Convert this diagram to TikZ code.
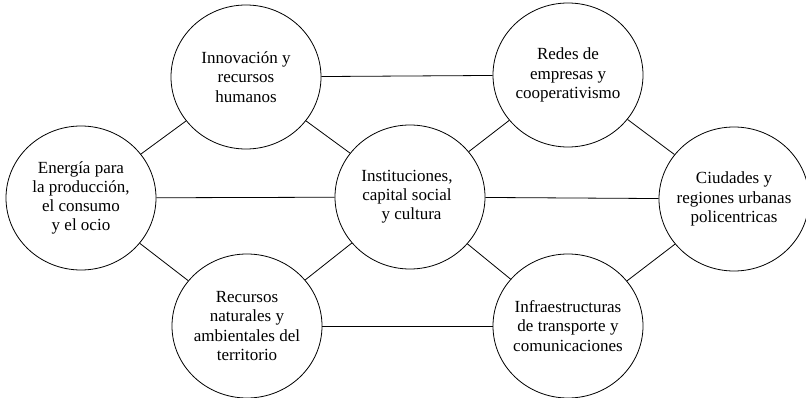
\documentclass[tikz,border=0pt]{standalone}
\usepackage{fontspec}
\setmainfont{Liberation Serif}
\usetikzlibrary{shapes.geometric}
\begin{document}
\begin{tikzpicture}[x=1pt,y=-1pt,
  topic/.style={ellipse, draw, line width=0.8pt, minimum width=150pt, minimum height=144pt, inner sep=0pt},
  label text/.style={align=center, inner sep=0pt, font=\fontsize{17}{19.2}\selectfont},
  link/.style={line width=0.8pt}]
\useasboundingbox (0,0) rectangle (806,398);
% circles
\node[topic] (innov) at (246,77) {};
\node[topic] (redes) at (568,75) {};
\node[topic] (energia) at (81,198) {};
\node[topic] (inst) at (410,197) {};
\node[topic] (ciud) at (734,199) {};
\node[topic] (recur) at (247,326) {};
\node[topic] (infra) at (568,326) {};
% texts
\node[label text] (innovT) at (innov) {Innovación y\\recursos\\humanos};
\node[label text] (redesT) at (redes) {Redes de\\empresas y\\cooperativismo};
\node[label text] (energiaT) at (energia) {Energía para\\la producción,\\el consumo\\y el ocio};
\node[label text, xshift=-3pt] (instT) at (inst) {Instituciones,\\capital social\hspace*{6pt}\\\hspace*{9pt}y cultura};
\node[label text] (ciudT) at (ciud) {Ciudades y\\regiones urbanas\\policentricas};
\node[label text] (recurT) at (recur) {Recursos\\naturales y\\ambientales del\\territorio};
\node[label text] (infraT) at (infra) {Infraestructuras\\de transporte y\\comunicaciones};
% links
\draw[link] (innov) -- (redes);
\draw[link] (innov) -- (energia);
\draw[link] (innov) -- (inst);
\draw[link] (energia) -- (inst);
\draw[link] (energia) -- (recur);
\draw[link] (inst) -- (redes);
\draw[link] (inst) -- (ciud);
\draw[link] (inst) -- (recur);
\draw[link] (inst) -- (infra);
\draw[link] (redes) -- (ciud);
\draw[link] (recur) -- (infra);
\draw[link] (infra) -- (ciud);
\end{tikzpicture}
\end{document}
